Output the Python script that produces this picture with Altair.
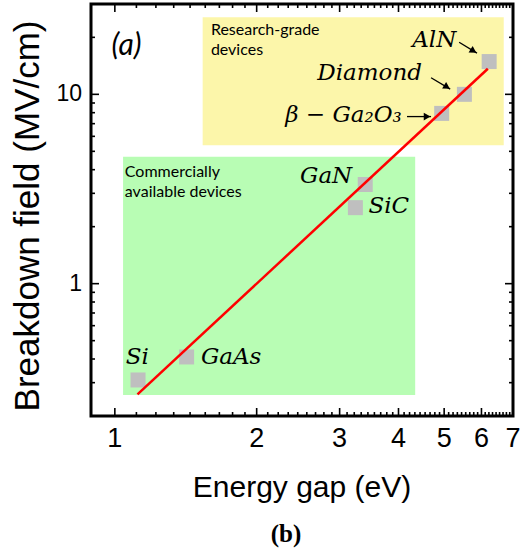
import altair as alt
import pandas as pd

# Band gap (eV) and critical breakdown field (MV/cm) of power semiconductors
materials = ["Si", "GaAs", "SiC", "GaN", "β-Ga2O3", "Diamond", "AlN"]
energy_gap = [1.12, 1.42, 3.24, 3.40, 4.94, 5.52, 6.23]
breakdown = [0.31, 0.41, 2.52, 3.34, 7.93, 10.0, 14.9]

# Power-law trend line endpoints
fit_gap = [1.117, 6.19]
fit_field = [0.26, 13.65]

# Shaded device-maturity regions
region_x0 = [1.041, 1.536]
region_x1 = [4.34, 6.69]
region_y0 = [0.258, 5.39]
region_y1 = [4.68, 25.5]
region_colors = ["#b8fdb4", "#fcf6aa"]
region_text = ["Commercially\navailable devices", "Research-grade\ndevices"]
region_text_x = [1.050, 1.599]
region_text_y = [3.67, 20.6]

# Material labels (right-aligned ones carry arrows)
right_labels = ["AlN", "Diamond", "β − Ga₂O₃"]
right_label_x = [5.305, 4.485, 4.066]
right_label_y = [17.89, 11.85, 7.15]
left_labels = ["GaN", "SiC", "Si", "GaAs"]
left_label_x = [2.472, 3.453, 1.055, 1.523]
left_label_y = [3.41, 2.356, 0.378, 0.375]

# Arrows from labels to points
arrow_x0 = [5.38, 4.69, 4.17]
arrow_y0 = [18.85, 12.24, 7.63]
arrow_x1 = [5.87, 5.15, 4.69]
arrow_y1 = [16.5, 10.66, 7.63]
head_x = [5.77, 5.07, 4.60]
head_y = [16.92, 10.93, 7.63]
head_angle = [32, 31, 0]

# Panel tag
panel_tag = ["(a)"]
panel_tag_x = [0.984]
panel_tag_y = [16.04]

# Axis ticks and tick labels
x_major = [1, 2, 3, 4, 5, 6, 7]
x_major_labels = ["1", "2", "3", "4", "5", "6", "7"]
x_minor = [n + k / 9 for n in range(1, 7) for k in range(1, 9)]
y_major = [1, 10]
y_major_labels = ["1", "10"]
y_minor = [0.3, 0.4, 0.5, 0.6, 0.7, 0.8, 0.9, 2, 3, 4, 5, 6, 7, 8, 9, 20]

x_title = "Energy gap (eV)"
y_title = "Breakdown field (MV/cm)"
caption = "(b)"

W, H = 422, 412
MAJOR, MINOR = 8, 4

points = pd.DataFrame({"material": materials, "gap": energy_gap, "field": breakdown})
fit = pd.DataFrame({"gap": fit_gap, "field": fit_field})
regions = pd.DataFrame({"x0": region_x0, "x1": region_x1, "y0": region_y0,
                        "y1": region_y1, "color": region_colors})
region_notes = pd.DataFrame({"text": region_text, "x": region_text_x, "y": region_text_y})
rlab = pd.DataFrame({"text": right_labels, "x": right_label_x, "y": right_label_y})
llab = pd.DataFrame({"text": left_labels, "x": left_label_x, "y": left_label_y})
arrows = pd.DataFrame({"x0": arrow_x0, "y0": arrow_y0, "x1": arrow_x1, "y1": arrow_y1})
heads = pd.DataFrame({"x": head_x, "y": head_y, "angle": head_angle})
tag = pd.DataFrame({"text": panel_tag, "x": panel_tag_x, "y": panel_tag_y})

xscale = alt.Scale(type="log", domain=[0.89, 7], nice=False, zero=False)
yscale = alt.Scale(type="log", domain=[0.2, 30], nice=False, zero=False)


def x_ticks(values, length, top, name):
    """Inward tick marks along the bottom (or top) frame edge."""
    centre = length / 2 if top else H - length / 2
    return alt.Chart(pd.DataFrame({name: values})).mark_tick(
        color="black", opacity=1, size=length, thickness=1.6, orient="vertical"
    ).encode(
        x=alt.X(f"{name}:Q", scale=xscale, axis=None),
        y=alt.value(centre),
    )


def y_ticks(values, length, right, name):
    """Inward tick marks along the left (or right) frame edge."""
    centre = W - length / 2 if right else length / 2
    return alt.Chart(pd.DataFrame({name: values})).mark_tick(
        color="black", opacity=1, size=length, thickness=1.6, orient="horizontal"
    ).encode(
        y=alt.Y(f"{name}:Q", scale=yscale, axis=None),
        x=alt.value(centre),
    )


tick_layers = [
    x_ticks(x_major, MAJOR, False, "xb_major"), x_ticks(x_minor, MINOR, False, "xb_minor"),
    x_ticks(x_major, MAJOR, True, "xt_major"), x_ticks(x_minor, MINOR, True, "xt_minor"),
    y_ticks(y_major, MAJOR, False, "yl_major"), y_ticks(y_minor, MINOR, False, "yl_minor"),
    y_ticks(y_major, MAJOR, True, "yr_major"), y_ticks(y_minor, MINOR, True, "yr_minor"),
]

# Tick labels placed through the scales, just outside the frame
x_labels = alt.Chart(pd.DataFrame({"xv": x_major, "t": x_major_labels})).mark_text(
    font="Liberation Sans", fontSize=27, color="black", align="center", baseline="top"
).encode(
    x=alt.X("xv:Q", scale=xscale, axis=None),
    y=alt.value(H + 10),
    text="t:N",
)
y_labels = alt.Chart(pd.DataFrame({"yv": y_major, "t": y_major_labels})).mark_text(
    font="Liberation Sans", fontSize=23, color="black", align="right", baseline="middle"
).encode(
    y=alt.Y("yv:Q", scale=yscale, axis=None),
    x=alt.value(-9),
    text="t:N",
)

# Axis titles and figure caption
x_title_text = alt.Chart(pd.DataFrame({"t": [x_title]})).mark_text(
    font="Liberation Sans", fontSize=30, color="black", align="center",
    baseline="alphabetic"
).encode(x=alt.value(W / 2), y=alt.value(493), text="t:N")
y_title_text = alt.Chart(pd.DataFrame({"t": [y_title]})).mark_text(
    font="Liberation Sans", fontSize=35, color="black", align="center",
    baseline="alphabetic", angle=270
).encode(x=alt.value(-52), y=alt.value(212), text="t:N")
caption_text = alt.Chart(pd.DataFrame({"t": [caption]})).mark_text(
    font="Liberation Serif", fontSize=25, fontWeight="bold", color="black",
    align="center", baseline="alphabetic"
).encode(x=alt.value(195), y=alt.value(538), text="t:N")

base_rect = alt.Chart(regions).mark_rect(opacity=1).encode(
    x=alt.X("x0:Q", scale=xscale, axis=None),
    x2="x1:Q",
    y=alt.Y("y0:Q", scale=yscale, axis=None),
    y2="y1:Q",
    color=alt.Color("color:N", scale=None),
)

notes = alt.Chart(region_notes).mark_text(
    align="left", baseline="alphabetic", font="Lato", fontSize=16,
    lineBreak="\n", lineHeight=20, color="black"
).encode(
    x=alt.X("x:Q", scale=xscale, axis=None),
    y=alt.Y("y:Q", scale=yscale, axis=None),
    text="text:N",
)

pts = alt.Chart(points).mark_point(
    shape="square", filled=True, size=225, color="#bfbfbf", opacity=1
).encode(
    x=alt.X("gap:Q", scale=xscale, axis=None),
    y=alt.Y("field:Q", scale=yscale, axis=None),
)

line = alt.Chart(fit).mark_line(color="#ff0000", strokeWidth=2.5).encode(
    x=alt.X("gap:Q", scale=xscale, axis=None),
    y=alt.Y("field:Q", scale=yscale, axis=None),
)

shafts = alt.Chart(arrows).mark_rule(color="black", strokeWidth=1.3).encode(
    x=alt.X("x0:Q", scale=xscale, axis=None),
    y=alt.Y("y0:Q", scale=yscale, axis=None),
    x2="x1:Q",
    y2="y1:Q",
)

tips = alt.Chart(heads).mark_point(
    shape="triangle-right", filled=True, size=60, color="black", opacity=1
).encode(
    x=alt.X("x:Q", scale=xscale, axis=None),
    y=alt.Y("y:Q", scale=yscale, axis=None),
    angle=alt.Angle("angle:Q", scale=None),
)

math_style = dict(font="DejaVu Serif", fontStyle="italic", fontSize=23,
                  baseline="alphabetic", color="black")

right_text = alt.Chart(rlab).mark_text(align="right", **math_style).encode(
    x=alt.X("x:Q", scale=xscale, axis=None),
    y=alt.Y("y:Q", scale=yscale, axis=None),
    text="text:N",
)
left_text = alt.Chart(llab).mark_text(align="left", **math_style).encode(
    x=alt.X("x:Q", scale=xscale, axis=None),
    y=alt.Y("y:Q", scale=yscale, axis=None),
    text="text:N",
)

tag_text = alt.Chart(tag).mark_text(
    align="left", baseline="alphabetic", font="Lato", fontStyle="italic",
    fontSize=30, color="black"
).encode(
    x=alt.X("x:Q", scale=xscale, axis=None),
    y=alt.Y("y:Q", scale=yscale, axis=None),
    text="text:N",
)

chart = alt.layer(
    base_rect, notes, pts, line, shafts, tips, right_text, left_text, tag_text,
    x_labels, y_labels, x_title_text, y_title_text, caption_text, *tick_layers
).properties(
    width=W,
    height=H,
    autosize=alt.AutoSizeParams(type="none"),
    padding={"left": 91, "top": 4, "right": 9, "bottom": 140},
).configure(
    background="white",
    view=alt.ViewConfig(stroke="black", strokeWidth=3),
)

chart.save("out.html", embed_options={"renderer": "svg", "actions": False})
